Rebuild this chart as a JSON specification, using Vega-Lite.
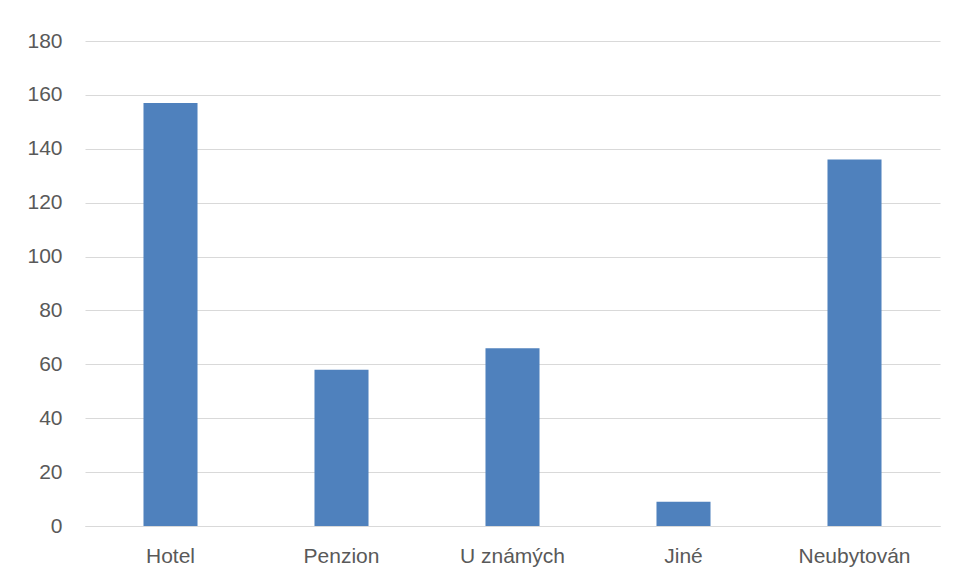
{
  "$schema": "https://vega.github.io/schema/vega-lite/v6.json",
  "autosize": {"type": "none"},
  "width": 855,
  "height": 485,
  "padding": {"left": 85, "top": 41, "right": 17, "bottom": 55},
  "background": "#ffffff",
  "config": {
    "view": {"stroke": null},
    "font": "Liberation Sans",
    "axis": {
      "labelFont": "Liberation Sans",
      "labelFontSize": 21,
      "labelColor": "#595959",
      "ticks": false,
      "title": null,
      "gridColor": "#d9d9d9",
      "gridWidth": 1,
      "domainColor": "#d9d9d9",
      "domainWidth": 1
    }
  },
  "data": {
    "values": [
      {"ubytovani": "Hotel", "pocet": 157},
      {"ubytovani": "Penzion", "pocet": 58},
      {"ubytovani": "U známých", "pocet": 66},
      {"ubytovani": "Jiné", "pocet": 9},
      {"ubytovani": "Neubytován", "pocet": 136}
    ]
  },
  "mark": {"type": "bar", "color": "#4f81bd"},
  "encoding": {
    "x": {
      "field": "ubytovani",
      "type": "nominal",
      "sort": null,
      "scale": {"paddingInner": 0.684, "paddingOuter": 0.342},
      "axis": {"labelAngle": 0, "labelPadding": 19, "grid": false, "domain": true}
    },
    "y": {
      "field": "pocet",
      "type": "quantitative",
      "scale": {"domain": [0, 180], "nice": false},
      "axis": {"values": [0, 20, 40, 60, 80, 100, 120, 140, 160, 180], "labelPadding": 23, "domain": false, "grid": true}
    }
  }
}
